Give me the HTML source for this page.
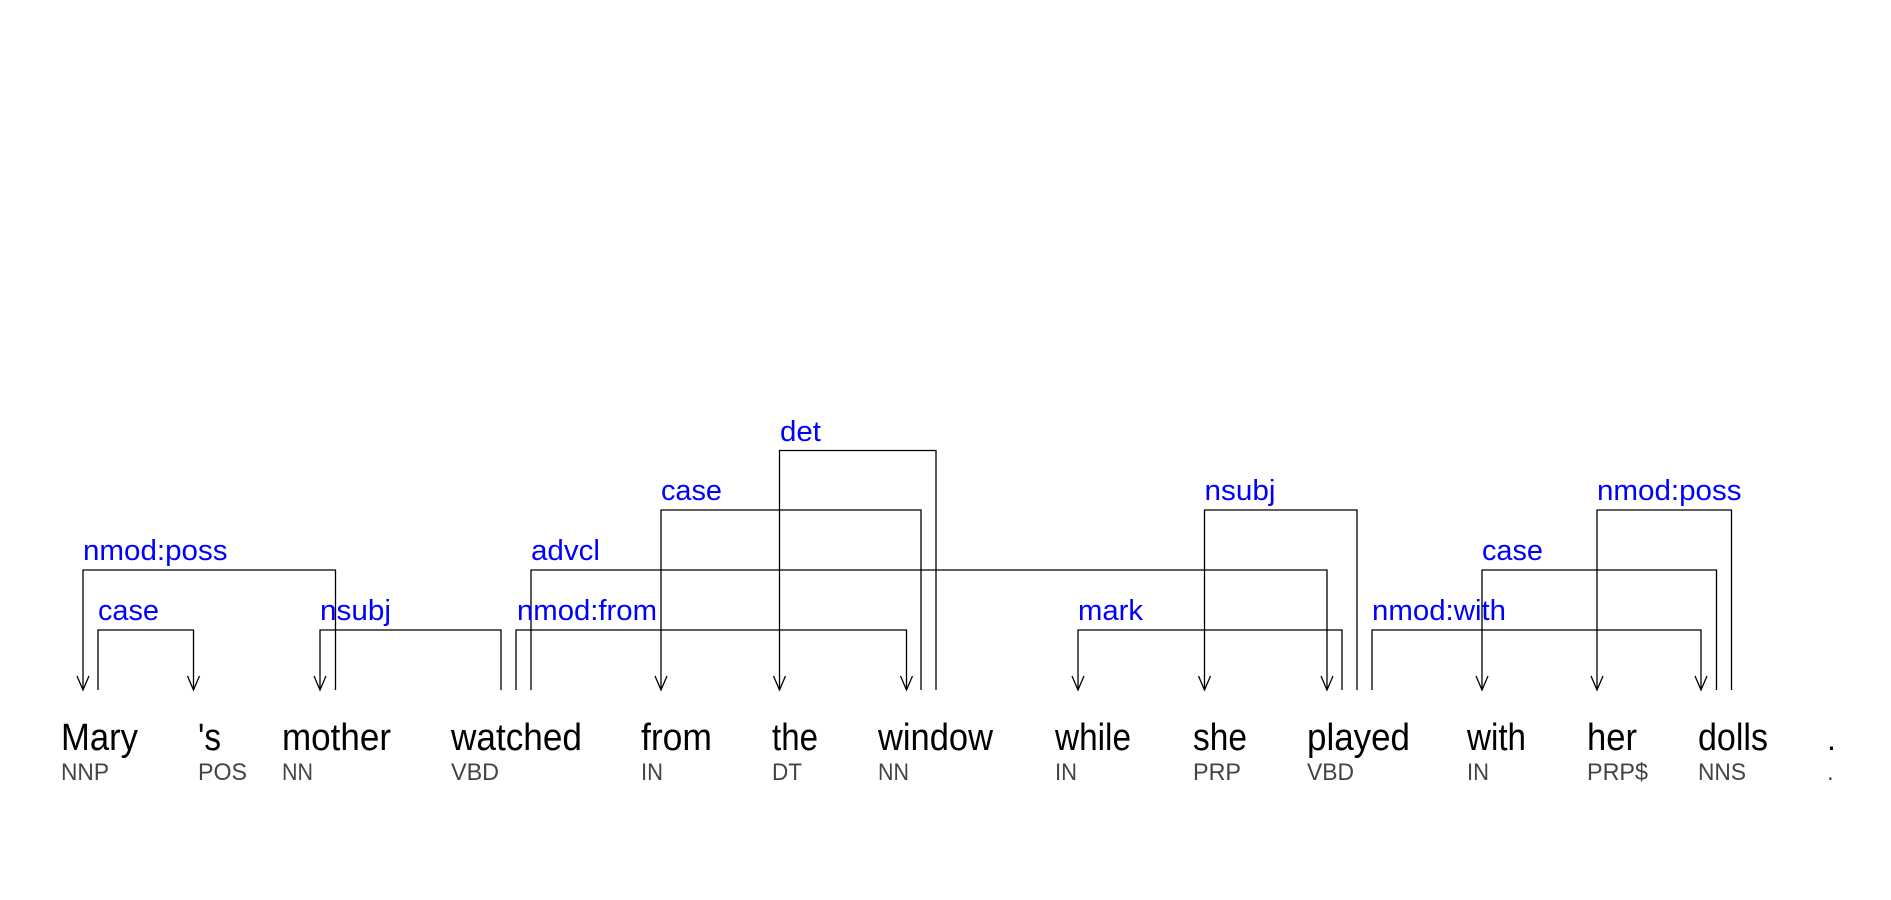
<!DOCTYPE html>
<html><head><meta charset="utf-8"><style>
html,body{margin:0;padding:0;background:#fff;width:1891px;height:900px;overflow:hidden}
svg{display:block}
.w{font-family:"Liberation Sans",sans-serif;font-size:38px;fill:#000}
.t{font-family:"Liberation Sans",sans-serif;font-size:24px;fill:#444}
.l{font-family:"Liberation Sans",sans-serif;font-size:29px;fill:#0000ff}
path{fill:none;stroke:#000;stroke-width:1.3}
</style></head><body>
<svg width="1891" height="900" viewBox="0 0 1891 900" xmlns="http://www.w3.org/2000/svg">
<g>
<text class="w" x="61" y="750" textLength="77" lengthAdjust="spacingAndGlyphs">Mary</text>
<text class="w" x="198" y="750" textLength="23" lengthAdjust="spacingAndGlyphs">'s</text>
<text class="w" x="282" y="750" textLength="109" lengthAdjust="spacingAndGlyphs">mother</text>
<text class="w" x="451" y="750" textLength="131" lengthAdjust="spacingAndGlyphs">watched</text>
<text class="w" x="641" y="750" textLength="71" lengthAdjust="spacingAndGlyphs">from</text>
<text class="w" x="772" y="750" textLength="46" lengthAdjust="spacingAndGlyphs">the</text>
<text class="w" x="878" y="750" textLength="115" lengthAdjust="spacingAndGlyphs">window</text>
<text class="w" x="1055" y="750" textLength="76" lengthAdjust="spacingAndGlyphs">while</text>
<text class="w" x="1193" y="750" textLength="54" lengthAdjust="spacingAndGlyphs">she</text>
<text class="w" x="1307" y="750" textLength="103" lengthAdjust="spacingAndGlyphs">played</text>
<text class="w" x="1467" y="750" textLength="59" lengthAdjust="spacingAndGlyphs">with</text>
<text class="w" x="1587" y="750" textLength="50" lengthAdjust="spacingAndGlyphs">her</text>
<text class="w" x="1698" y="750" textLength="70" lengthAdjust="spacingAndGlyphs">dolls</text>
<text class="w" x="1827" y="750" style="font-size:32px">.</text>
</g>
<g>
<text class="t" x="61" y="780" textLength="48" lengthAdjust="spacingAndGlyphs">NNP</text>
<text class="t" x="198" y="780" textLength="49" lengthAdjust="spacingAndGlyphs">POS</text>
<text class="t" x="282" y="780" textLength="31" lengthAdjust="spacingAndGlyphs">NN</text>
<text class="t" x="451" y="780" textLength="48" lengthAdjust="spacingAndGlyphs">VBD</text>
<text class="t" x="641" y="780" textLength="22" lengthAdjust="spacingAndGlyphs">IN</text>
<text class="t" x="772" y="780" textLength="30" lengthAdjust="spacingAndGlyphs">DT</text>
<text class="t" x="878" y="780" textLength="31" lengthAdjust="spacingAndGlyphs">NN</text>
<text class="t" x="1055" y="780" textLength="22" lengthAdjust="spacingAndGlyphs">IN</text>
<text class="t" x="1193" y="780" textLength="48" lengthAdjust="spacingAndGlyphs">PRP</text>
<text class="t" x="1307" y="780" textLength="47" lengthAdjust="spacingAndGlyphs">VBD</text>
<text class="t" x="1467" y="780" textLength="22" lengthAdjust="spacingAndGlyphs">IN</text>
<text class="t" x="1587" y="780" textLength="61" lengthAdjust="spacingAndGlyphs">PRP$</text>
<text class="t" x="1698" y="780" textLength="48" lengthAdjust="spacingAndGlyphs">NNS</text>
<text class="t" x="1827" y="780">.</text>
</g>
<path d="M98,690V630H193.5V690"/>
<path d="M83,690V570H335.5V690"/>
<path d="M320,690V630H501V690"/>
<path d="M516,690V630H906.5V690"/>
<path d="M531,690V570H1327V690"/>
<path d="M661,690V510H921V690"/>
<path d="M779.5,690V450.5H936V690"/>
<path d="M1078,690V630H1342V690"/>
<path d="M1204.5,690V510H1357V690"/>
<path d="M1372,690V630H1701V690"/>
<path d="M1482,690V570H1716.5V690"/>
<path d="M1597,690V510H1731.5V690"/>
<g>
<path d="M187.5,676L193.5,690L199.5,676"/>
<path d="M77,676L83,690L89,676"/>
<path d="M314,676L320,690L326,676"/>
<path d="M900.5,676L906.5,690L912.5,676"/>
<path d="M1321,676L1327,690L1333,676"/>
<path d="M655,676L661,690L667,676"/>
<path d="M773.5,676L779.5,690L785.5,676"/>
<path d="M1072,676L1078,690L1084,676"/>
<path d="M1198.5,676L1204.5,690L1210.5,676"/>
<path d="M1695,676L1701,690L1707,676"/>
<path d="M1476,676L1482,690L1488,676"/>
<path d="M1591,676L1597,690L1603,676"/>
</g>
<g>
<text class="l" x="98" y="620" textLength="61" lengthAdjust="spacingAndGlyphs">case</text>
<text class="l" x="83" y="560" textLength="144.5" lengthAdjust="spacingAndGlyphs">nmod:poss</text>
<text class="l" x="320" y="620" textLength="71" lengthAdjust="spacingAndGlyphs">nsubj</text>
<text class="l" x="517" y="620" textLength="140" lengthAdjust="spacingAndGlyphs">nmod:from</text>
<text class="l" x="531" y="560" textLength="69" lengthAdjust="spacingAndGlyphs">advcl</text>
<text class="l" x="661" y="500" textLength="61" lengthAdjust="spacingAndGlyphs">case</text>
<text class="l" x="780" y="441" textLength="41" lengthAdjust="spacingAndGlyphs">det</text>
<text class="l" x="1078" y="620" textLength="65" lengthAdjust="spacingAndGlyphs">mark</text>
<text class="l" x="1204.5" y="500" textLength="71" lengthAdjust="spacingAndGlyphs">nsubj</text>
<text class="l" x="1372" y="620" textLength="134" lengthAdjust="spacingAndGlyphs">nmod:with</text>
<text class="l" x="1482" y="560" textLength="61" lengthAdjust="spacingAndGlyphs">case</text>
<text class="l" x="1597" y="500" textLength="144.5" lengthAdjust="spacingAndGlyphs">nmod:poss</text>
</g>
</svg>
</body></html>
